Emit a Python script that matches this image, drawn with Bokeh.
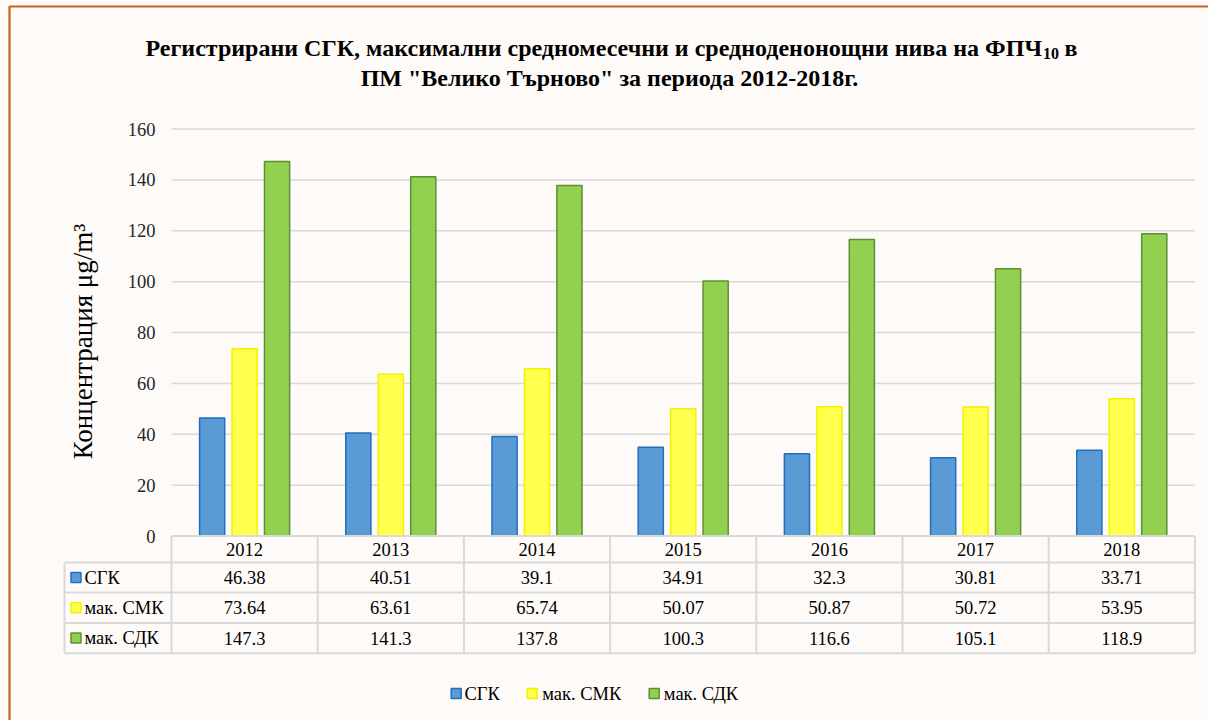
import numpy as np
from bokeh.plotting import figure
from bokeh.models import Range1d
from bokeh.core.properties import value
from bokeh.embed import file_html
from bokeh.resources import INLINE

# ---------------- data ----------------
years = ["2012", "2013", "2014", "2015", "2016", "2017", "2018"]
series_names = ["СГК", "мак. СМК", "мак. СДК"]
sgk = [46.38, 40.51, 39.1, 34.91, 32.3, 30.81, 33.71]
smk = [73.64, 63.61, 65.74, 50.07, 50.87, 50.72, 53.95]
sdk = [147.3, 141.3, 137.8, 100.3, 116.6, 105.1, 118.9]
y_ticks = [0, 20, 40, 60, 80, 100, 120, 140, 160]
title_line1 = "Регистрирани СГК, максимални средномесечни и средноденонощни нива на ФПЧ"
title_sub = "10"
title_tail = "в"
title_line2 = "ПМ \"Велико Търново\" за периода 2012-2018г."
y_label = "Концентрация μg/m³"

series = [sgk, smk, sdk]
fills = ["#5b9bd5", "#ffff4d", "#92d050"]
borders = ["#1f6fc0", "#f2f200", "#5f8f35"]

# ---------------- layout constants (pixels) ----------------
W, H = 1208, 720
X0 = 171.0      # left edge of first category column
CW = 146.2      # category column width
Y0 = 535.5      # pixel row of value 0
S = 2.543       # pixels per value unit
BG = "#fdfaf7"
GRID = "#d9d9d9"
FONT = value("Liberation Serif")
n = len(years)

p = figure(width=W, height=H, output_backend="svg", toolbar_location=None,
           x_range=Range1d(-X0 / CW, (W - X0) / CW),
           y_range=Range1d(-(H - Y0) / S, Y0 / S),
           x_axis_location=None, y_axis_location=None, min_border=0,
           background_fill_color=BG, border_fill_color=BG, outline_line_color=None)
p.extra_x_ranges = {"px": Range1d(0, W)}
p.extra_y_ranges = {"px": Range1d(H, 0)}
p.xgrid.visible = False
p.ygrid.visible = False

# orange frame border (left and top)
p.line(x=[9, 9, W], y=[H, 6, 6], x_range_name="px", y_range_name="px",
       line_color="#c8641e", line_width=2.2)

# horizontal gridlines
p.segment(x0=[0] * (len(y_ticks) - 1), x1=[n] * (len(y_ticks) - 1),
          y0=y_ticks[1:], y1=y_ticks[1:], line_color=GRID, line_width=1.5)

# y tick labels
p.text(x=[0] * len(y_ticks), y=y_ticks, text=[str(t) for t in y_ticks],
       x_offset=-16, text_align="right", text_baseline="middle",
       text_font=FONT, text_font_size=value("18.5px"), text_color="#262626")

# y axis label
p.text(x=[82], y=[341], text=[y_label], angle=np.pi / 2,
       x_range_name="px", y_range_name="px",
       text_align="center", text_baseline="middle",
       text_font=FONT, text_font_size=value("27px"), text_color="#000000")

# bars
xc = np.arange(n) + 0.5
offsets = [-0.222, 0.0, 0.222]
for vals, off, fc, lc in zip(series, offsets, fills, borders):
    p.vbar(x=xc + off, top=vals, bottom=0, width=0.172,
           fill_color=fc, line_color=lc, line_width=1.5)

# ---------------- data table ----------------
row_edges = [Y0, 562.0, 592.0, 622.5, 652.7]
LEFT = 64.0
RIGHT = X0 + n * CW
hx0 = [X0] + [LEFT] * (len(row_edges) - 1)
hx1 = [RIGHT] * len(row_edges)
p.segment(x0=hx0, x1=hx1, y0=row_edges, y1=row_edges,
          x_range_name="px", y_range_name="px", line_color=GRID, line_width=2)
vx = [X0 + k * CW for k in range(n + 1)]
p.segment(x0=vx, x1=vx, y0=[row_edges[0]] * len(vx), y1=[row_edges[-1]] * len(vx),
          x_range_name="px", y_range_name="px", line_color=GRID, line_width=2)
p.segment(x0=[LEFT], x1=[LEFT], y0=[row_edges[1]], y1=[row_edges[-1]],
          x_range_name="px", y_range_name="px", line_color=GRID, line_width=2)

row_centers = [(row_edges[i] + row_edges[i + 1]) / 2 for i in range(len(row_edges) - 1)]
p.text(x=xc, y=[row_centers[0]] * n, text=years, y_range_name="px",
       text_align="center", text_baseline="middle",
       text_font=FONT, text_font_size=value("18.5px"), text_color="#000000")
for r, vals in enumerate(series):
    p.text(x=xc, y=[row_centers[r + 1]] * n, text=[str(v) for v in vals],
           y_range_name="px", text_align="center", text_baseline="middle",
           text_font=FONT, text_font_size=value("18.5px"), text_color="#000000")
p.scatter(x=[75.5] * 3, y=row_centers[1:], marker="square", size=10,
          fill_color=fills, line_color=borders, line_width=1.5,
          x_range_name="px", y_range_name="px")
p.text(x=[84] * 3, y=row_centers[1:], text=series_names,
       x_range_name="px", y_range_name="px", text_align="left", text_baseline="middle",
       text_font=FONT, text_font_size=value("18.5px"), text_color="#000000")

# ---------------- legend ----------------
leg_sq = [455.7, 531.7, 653.7]
leg_tx = [464.0, 541.7, 663.3]
leg_y = 693
p.scatter(x=leg_sq, y=[leg_y] * 3, marker="square", size=10,
          fill_color=fills, line_color=borders, line_width=1.5,
          x_range_name="px", y_range_name="px")
p.text(x=leg_tx, y=[leg_y] * 3, text=series_names,
       x_range_name="px", y_range_name="px", text_align="left", text_baseline="middle",
       text_font=FONT, text_font_size=value("18.5px"), text_color="#000000")

# ---------------- title ----------------
p.text(x=[1041.5], y=[47.7], text=[title_line1], x_range_name="px", y_range_name="px",
       text_align="right", text_baseline="alphabetic", text_font=FONT,
       text_font_style="bold", text_font_size=value("24px"), text_color="#000000")
p.text(x=[1042.5], y=[53.3], text=[title_sub], x_range_name="px", y_range_name="px",
       text_align="left", text_baseline="alphabetic", text_font=FONT,
       text_font_style="bold", text_font_size=value("16px"), text_color="#000000")
p.text(x=[1064], y=[47.7], text=[title_tail], x_range_name="px", y_range_name="px",
       text_align="left", text_baseline="alphabetic", text_font=FONT,
       text_font_style="bold", text_font_size=value("24px"), text_color="#000000")
p.text(x=[609], y=[77], text=[title_line2], x_range_name="px", y_range_name="px",
       text_align="center", text_baseline="alphabetic", text_font=FONT,
       text_font_style="bold", text_font_size=value("24px"), text_color="#000000")

open("out.html", "w").write(file_html(p, INLINE))
